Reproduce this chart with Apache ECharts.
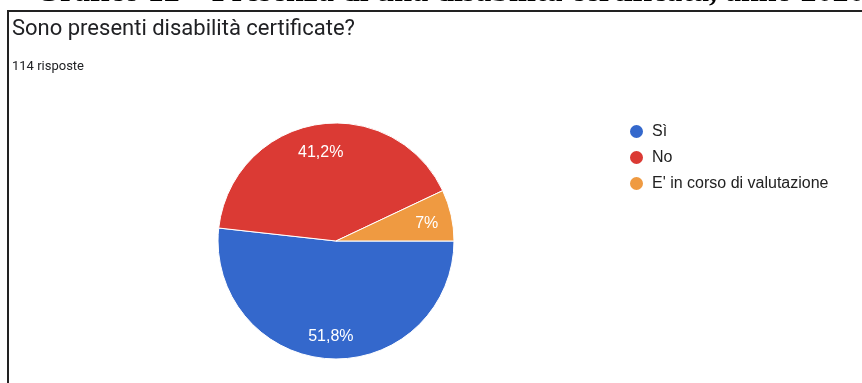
<!DOCTYPE html>
<html>
<head>
<meta charset="utf-8">
<title>Sono presenti disabilità certificate?</title>
<script src="https://cdn.jsdelivr.net/npm/echarts@6/dist/echarts.min.js"></script>
<style>
  html, body { margin: 0; padding: 0; background: #fff; }
  #chart { width: 862px; height: 383px; }
</style>
</head>
<body>
<div id="chart"></div>
<script>
// Survey answers (114 responses)
const categories = ['Sì', 'No', "E' in corso di valutazione"];
const counts = [59, 47, 8];
const colors = ['#3468cc', '#db3a34', '#ef9a41'];

const pieData = categories.map((name, i) => ({ name, value: counts[i] }));

// Italian style percent: comma decimal, no trailing ",0"
const pctLabel = p => String(p.percent).replace('.', ',') + '%';

const chart = echarts.init(document.getElementById('chart'), null, { renderer: 'canvas' });

chart.setOption({
  animation: false,
  color: colors,
  graphic: [
    {
      type: 'text',
      left: 35,
      top: -23,
      style: {
        text: 'Grafico 12 – Presenza di una disabilità certificata, anno 2020',
        font: 'bold 32px "Liberation Serif", "DejaVu Serif", serif',
        fill: '#000'
      }
    },
    {
      type: 'polyline',
      shape: { points: [[8, 383], [8, 11], [862, 11]] },
      style: { stroke: '#222', lineWidth: 2, fill: null }
    },
    {
      type: 'text',
      left: 12,
      top: 18,
      style: {
        text: 'Sono presenti disabilità certificate?',
        font: '22px Roboto, "Liberation Sans", sans-serif',
        fill: '#202124'
      }
    },
    {
      type: 'text',
      left: 12,
      top: 60,
      style: {
        text: '114 risposte',
        font: '13px Roboto, "Liberation Sans", sans-serif',
        fill: '#202124'
      }
    }
  ],
  legend: {
    orient: 'vertical',
    left: 623,
    top: 118,
    icon: 'circle',
    itemWidth: 15,
    itemHeight: 15,
    itemGap: 9,
    data: categories,
    textStyle: {
      fontFamily: '"Liberation Sans", Arial, sans-serif',
      fontSize: 16,
      color: '#222',
      padding: [0, 0, 0, 3]
    },
    selectedMode: false
  },
  series: [
    {
      name: 'slices',
      type: 'pie',
      center: [336, 241],
      radius: [0, 118],
      startAngle: 0,
      clockwise: true,
      silent: true,
      itemStyle: { borderColor: '#fff', borderWidth: 1 },
      label: { show: false },
      labelLine: { show: false },
      data: pieData
    },
    {
      // transparent ring used only to place the percentage labels
      name: 'labels',
      type: 'pie',
      center: [336, 241],
      radius: [0, 180],
      startAngle: 0,
      clockwise: true,
      silent: true,
      percentPrecision: 1,
      itemStyle: { color: 'rgba(0,0,0,0)', borderWidth: 0 },
      emphasis: { disabled: true },
      label: {
        show: true,
        position: 'inside',
        formatter: pctLabel,
        color: '#fff',
        fontSize: 16,
        fontFamily: '"Liberation Sans", Arial, sans-serif',
        offset: [0, 3]
      },
      labelLine: { show: false },
      data: pieData
    }
  ]
});
</script>
</body>
</html>
